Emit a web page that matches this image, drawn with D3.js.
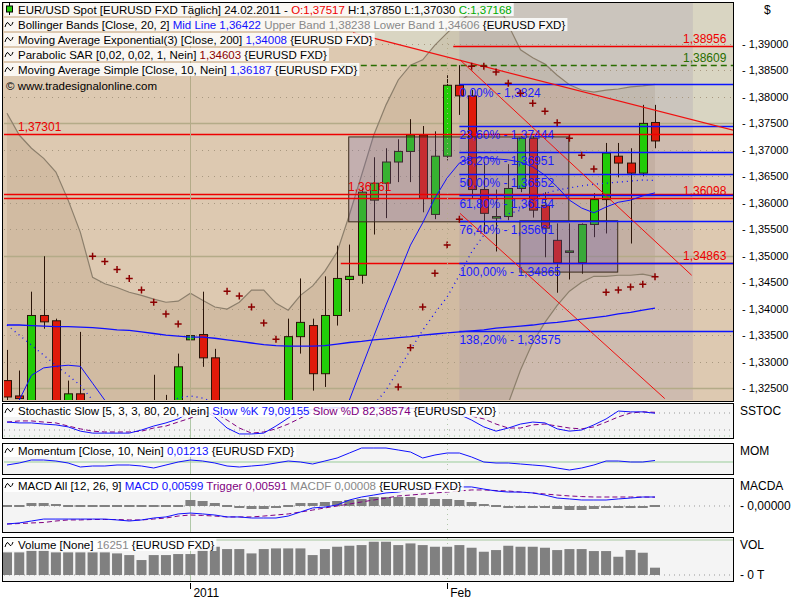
<!DOCTYPE html>
<html><head><meta charset="utf-8">
<script src="https://cdn.jsdelivr.net/npm/d3@7"></script>
<style>body{margin:0;background:#fff}text{font-family:"Liberation Sans",Arial,sans-serif;font-size:11px}</style>
</head><body><svg id="c" width="800" height="600"></svg>
<script>
// price candles, index 0..53 (daily)
var open  = [1.3264,1.3235,1.3180,1.3387,1.3377,1.3180,1.3239,1.3175,1.3100,1.3060,1.2980,1.3000,1.3080,1.3150,1.3180,1.3341,1.3351,1.3307,1.3180,1.3060,1.2960,1.2900,1.2980,1.3060,1.3347,1.3368,1.3277,1.3387,1.3455,1.3463,1.3605,1.3637,1.3677,1.3697,1.3728,1.3578,1.3688,1.3822,1.3802,1.3625,1.3571,1.3574,1.3627,1.3722,1.3595,1.3529,1.3508,1.3487,1.3559,1.3606,1.3688,1.3675,1.3656,1.37517];
var high  = [1.3322,1.3283,1.3432,1.3499,1.3381,1.3264,1.3356,1.3200,1.3150,1.3120,1.3050,1.3100,1.3275,1.3237,1.3315,1.3394,1.3432,1.3324,1.3210,1.3100,1.3000,1.3020,1.3100,1.3381,1.3457,1.3381,1.3461,1.3519,1.3521,1.3627,1.3686,1.3703,1.3720,1.3758,1.3745,1.3735,1.3841,1.3860,1.3813,1.3677,1.3625,1.3673,1.3726,1.3726,1.3620,1.3561,1.3561,1.3561,1.3618,1.3713,1.3713,1.3703,1.3785,1.37850];
var low   = [1.3220,1.3215,1.3160,1.3362,1.3140,1.3160,1.3160,1.3080,1.3040,1.2960,1.2900,1.2960,1.3040,1.3100,1.3150,1.3249,1.3290,1.3160,1.3040,1.2920,1.2870,1.2880,1.2940,1.3040,1.3315,1.3245,1.3252,1.3368,1.3394,1.3447,1.3540,1.3571,1.3639,1.3639,1.3582,1.3569,1.3680,1.3766,1.3608,1.3542,1.3508,1.3567,1.3620,1.3572,1.3497,1.3430,1.3455,1.3466,1.3535,1.3542,1.3648,1.3523,1.3650,1.37030];
var close = [1.3233,1.3230,1.3387,1.3375,1.3160,1.3239,1.3180,1.3100,1.3060,1.2980,1.3000,1.3080,1.3150,1.3180,1.3290,1.3349,1.3307,1.3180,1.3060,1.2960,1.2900,1.2980,1.3060,1.3347,1.3374,1.3277,1.3387,1.3457,1.3461,1.3620,1.3637,1.3677,1.3697,1.3728,1.3608,1.3688,1.3822,1.3802,1.3625,1.3580,1.3574,1.3627,1.3722,1.3586,1.3552,1.3487,1.3509,1.3559,1.3606,1.3694,1.3675,1.3656,1.3750,1.37168];

var bbUpper = [1.3769,1.3728,1.3703,1.3684,1.3658,1.3605,1.3544,1.3459,1.3447,1.3440,1.3431,1.3425,1.3418,1.3412,1.3414,1.3429,1.3416,1.3403,1.3399,1.3412,1.3435,1.3435,1.3410,1.3397,1.3425,1.3443,1.3471,1.3507,1.3577,1.3652,1.3728,1.3785,1.3832,1.3860,1.3870,1.3898,1.3921,1.3942,1.3960,1.3974,1.3983,1.3936,1.3889,1.3874,1.3862,1.3841,1.3823,1.3813,1.3809,1.3813,1.3815,1.3819,1.3821,1.38238];
var bbMid   = [1.3369,1.3350,1.3331,1.3312,1.3293,1.3274,1.3255,1.3227,1.3208,1.3199,1.3193,1.3189,1.3199,1.3218,1.3231,1.3235,1.3231,1.3222,1.3208,1.3199,1.3189,1.3180,1.3174,1.3170,1.3174,1.3180,1.3186,1.3189,1.3193,1.3199,1.3218,1.3246,1.3284,1.3322,1.3359,1.3392,1.3422,1.3463,1.3507,1.3539,1.3564,1.3579,1.3586,1.3605,1.3618,1.3624,1.3628,1.3632,1.3635,1.3637,1.3639,1.3641,1.3643,1.36422];
var bbLower = [1.2968,1.2972,1.2959,1.2940,1.2929,1.2944,1.2966,1.2995,1.2968,1.2957,1.2955,1.2953,1.2980,1.3023,1.3048,1.3040,1.3046,1.3040,1.3017,1.2985,1.2944,1.2925,1.2938,1.2944,1.2923,1.2917,1.2900,1.2872,1.2809,1.2745,1.2707,1.2707,1.2736,1.2783,1.2849,1.2885,1.2923,1.2985,1.3053,1.3104,1.3144,1.3221,1.3284,1.3336,1.3374,1.3406,1.3433,1.3450,1.3461,1.3461,1.3463,1.3463,1.3465,1.34606];
var ema200 = [1.3369,1.3369,1.3368,1.3367,1.3366,1.3366,1.3365,1.3364,1.3362,1.3360,1.3359,1.3356,1.3353,1.3350,1.3348,1.3346,1.3346,1.3344,1.3341,1.3338,1.3335,1.3332,1.3330,1.3329,1.3329,1.3329,1.3330,1.3333,1.3336,1.3338,1.3341,1.3343,1.3345,1.3347,1.3350,1.3352,1.3354,1.3356,1.3358,1.3360,1.3363,1.3365,1.3367,1.3369,1.3372,1.3374,1.3377,1.3380,1.3383,1.3386,1.3390,1.3393,1.3397,1.34008];
var sma10 = [1.3170,1.3227,1.3274,1.3288,1.3291,1.3293,1.3291,1.3259,1.3227,1.3200,1.3150,1.3120,1.3100,1.3090,1.3100,1.3110,1.3120,1.3130,1.3120,1.3100,1.3070,1.3050,1.3040,1.3040,1.3060,1.3090,1.3120,1.3160,1.3227,1.3288,1.3348,1.3407,1.3463,1.3520,1.3562,1.3609,1.3647,1.3675,1.3685,1.3685,1.3683,1.3681,1.3677,1.3668,1.3652,1.3630,1.3605,1.3590,1.3581,1.3592,1.3601,1.3605,1.3613,1.36187];
var sar = [null,null,null,null,null,null,null,1.3499,1.3489,1.3474,1.3457,1.3435,1.3412,1.3390,1.3371,null,null,null,1.3433,1.3424,1.3403,1.3373,1.3342,null,null,null,null,null,null,null,null,null,1.3252,1.3326,1.3403,1.3467,1.3520,1.3569,1.3858,1.3858,1.3847,1.3826,1.3807,1.3788,1.3773,1.3751,1.3722,1.3690,1.3664,1.3431,1.3435,1.3441,1.3446,1.34603];

var stochK = [48,45,45,41,38,31,16,9,9,9,9,20,34,45,59,84,91,66,27,6,6,9,34,62,91,91,98,99,97,98,99,99,98,97,94,92,90,75,55,31,16,27,41,48,45,24,16,20,38,59,87,84,84,79.09];
var stochD = [48,52,52,48,45,34,24,16,13,13,13,16,27,34,48,62,80,80,55,27,9,13,24,41,62,84,94,96,97,97,98,98,97,96,94,92,93,88,69,59,41,27,27,38,41,34,27,24,31,48,66,80,84,82.39];
var momentum = [-0.024,-0.008,0.016,0.016,0.008,-0.008,-0.040,-0.032,-0.032,-0.024,-0.024,-0.032,-0.048,-0.024,0,0.016,0.008,-0.008,-0.032,-0.040,-0.032,-0.024,-0.008,0.008,0,-0.016,0.008,0.032,0.072,0.112,0.112,0.112,0.096,0.080,0.032,0.056,0.072,0.072,0.040,0,-0.008,-0.008,-0.016,-0.024,-0.032,-0.048,-0.064,-0.048,-0.024,0.008,0.008,0,0,0.01213];
var macd = [-0.0120,-0.0113,-0.0100,-0.0087,-0.0087,-0.0087,-0.0087,-0.0087,-0.0087,-0.0093,-0.0100,-0.0093,-0.0080,-0.0073,-0.0053,-0.0047,-0.0053,-0.0060,-0.0073,-0.0073,-0.0080,-0.0080,-0.0080,-0.0067,-0.0040,-0.0013,-0.0007,0.0007,0.0040,0.0060,0.0073,0.0087,0.0093,0.0107,0.0113,0.0120,0.0127,0.0127,0.0127,0.0113,0.0100,0.0093,0.0093,0.0087,0.0073,0.0053,0.0047,0.0040,0.0040,0.0040,0.0047,0.0053,0.0060,0.00599];
var trigger = [-0.0120,-0.0117,-0.0113,-0.0110,-0.0100,-0.0093,-0.0093,-0.0090,-0.0090,-0.0090,-0.0093,-0.0093,-0.0087,-0.0080,-0.0067,-0.0060,-0.0063,-0.0067,-0.0073,-0.0073,-0.0073,-0.0067,-0.0060,-0.0053,-0.0040,-0.0027,-0.0013,0,0.0013,0.0027,0.0040,0.0053,0.0067,0.0073,0.0080,0.0087,0.0093,0.0100,0.0107,0.0107,0.0103,0.0100,0.0093,0.0087,0.0080,0.0073,0.0067,0.0063,0.0060,0.0060,0.0060,0.0060,0.0060,0.00591];
var macdf = [0.00006,0.0001,0.0006,0.0006,0.0004,0.0002,0.0002,0.0001,0.0001,0.00006,0.00006,0.00006,0.0001,0.0001,0.0002,0.0012,0.001,0.0006,0.0001,-0.0002,-0.0006,-0.0006,-0.0002,0.00006,0.0006,0.0006,0.0008,0.001,0.0012,0.0014,0.0018,0.0018,0.0018,0.0018,0.0016,0.0014,0.0014,0.0012,0.0008,0.0004,0.00006,-0.0002,-0.0001,-0.0002,-0.0004,-0.0006,-0.0008,-0.0008,-0.0006,-0.0004,-0.0002,-0.0002,-0.00006,0.00008];
var volume = [50250,50250,57640,57640,50250,50250,50250,50250,50250,48000,44300,33250,44300,44300,46560,46560,57640,62800,57640,57640,48000,57640,59100,59100,59100,44300,57640,62800,65000,66500,73900,73900,66500,70200,66500,62800,62800,66500,60600,51700,55400,65000,62800,62800,60600,55400,57640,57640,53200,53200,40600,55400,49500,16251];

var priceTicks = [1.39,1.385,1.38,1.375,1.37,1.365,1.36,1.355,1.35,1.345,1.34,1.335,1.33,1.325];
var hLevels = [
  {v:1.38956, from:36.5, color:"#e00", label:"1,38956", side:"r", dash:null},
  {v:1.38609, from:27.3, color:"#286e00", label:"1,38609", side:"r", dash:"6,4"},
  {v:1.37301, from:-1, color:"#e00", label:"1,37301", side:"l", dash:null},
  {v:1.36161, from:-1, color:"#e00", label:"1,36161", side:"m", dash:null},
  {v:1.36098, from:-1, color:"#e00", label:"1,36098", side:"r", dash:null},
  {v:1.34863, from:27.3, color:"#e00", label:"1,34863", side:"r", dash:null}
];
var fibPct = ["0,00%","23,60%","38,20%","50,00%","61,80%","76,40%","100,00%","138,20%"];
var fibVal = [1.3824,1.37444,1.36951,1.36552,1.36154,1.35661,1.34865,1.33575];
var fibLbl = ["1,3824","1,37444","1,36951","1,36552","1,36154","1,35661","1,34865","1,33575"];

var svg = d3.select("#c");
var L = 4, R = 733;
var x = d3.scaleLinear().domain([0,53]).range([7,655]);
var y = d3.scaleLinear().domain([1.325,1.39]).range([388,44]);

// panel frames
var panels = [{t:2,b:401},{t:403,b:438},{t:443,b:474},{t:478,b:532},{t:537,b:581}];
svg.append("defs").append("clipPath").attr("id","mc").append("rect")
  .attr("x",L).attr("y",3).attr("width",R-L).attr("height",397);
panels.forEach(function(p,i){
  svg.append("rect").attr("x",L-1).attr("y",p.t).attr("width",R-L+1).attr("height",p.b-p.t)
    .attr("fill", i==0 ? "#ddc9b1" : "#f4f4f4");
});
var m = svg.append("g").attr("clip-path","url(#mc)");

// trend line region (lighter) above upper trendline
var tl = [[28.3,1.3921],[59.4,1.3737]];
m.append("path").attr("fill","#d9d5c2")
  .attr("d","M"+x(tl[0][0])+","+y(tl[0][1])+"L"+R+","+(y(tl[0][1])+(R-x(tl[0][0]))*(y(tl[1][1])-y(tl[0][1]))/(x(tl[1][0])-x(tl[0][0])))+"L"+R+",0L"+x(tl[0][0])+",0Z");
// bollinger fill
m.append("path").datum(d3.range(54)).attr("fill","rgba(120,90,60,0.12)")
  .attr("d", d3.area().x(function(i){return x(i);}).y0(function(i){return y(bbLower[i]);}).y1(function(i){return y(bbUpper[i]);}));
// projection zone
m.append("rect").attr("x",x(37)).attr("y",0).attr("width",x(56.1)-x(37)).attr("height",400).attr("fill","rgba(130,120,170,0.16)");

// grid
priceTicks.forEach(function(v){
  var major = Math.abs((v*1000)%25) < 0.01 || Math.abs((v*1000)%25-25) < 0.01;
  m.append("line").attr("x1",L).attr("x2",R).attr("y1",Math.round(y(v))+0.5).attr("y2",Math.round(y(v))+0.5)
    .attr("stroke", major ? "#b4ab88" : "#a89880").attr("stroke-width", major?1.5:1).attr("stroke-dasharray", major?null:"1,5");
});
[15,36].forEach(function(i,k){
  panels.forEach(function(p,j){
    svg.append("line").attr("x1",Math.round(x(i))+0.5).attr("x2",Math.round(x(i))+0.5).attr("y1",p.t+1).attr("y2",p.b)
      .attr("stroke", j==0 ? "#b4ab88" : "#b0c8a8").attr("stroke-dasharray", k==1?"1,4":null);
  });
});

// Bollinger bands lines
[bbUpper,bbLower].forEach(function(arr){
  m.append("path").datum(d3.range(54)).attr("fill","none").attr("stroke","#8c7f6c").attr("stroke-width",1.2)
    .attr("d", d3.line().x(function(i){return x(i);}).y(function(i){return y(arr[i]);}));
});

// candles
var cg = m.append("g");
d3.range(54).forEach(function(i){
  var up = close[i] >= open[i], cx = Math.round(x(i))+0.5;
  cg.append("line").attr("x1",cx).attr("x2",cx).attr("y1",y(high[i])).attr("y2",y(low[i])).attr("stroke","#2a1408");
  var t = y(Math.max(open[i],close[i])), b = y(Math.min(open[i],close[i]));
  cg.append("rect").attr("x",cx-4).attr("y",t).attr("width",8).attr("height",Math.max(b-t,1.5))
    .attr("fill", up ? "#22cc08" : "#e01a0a").attr("stroke","#2a1408");
});

// boxes
m.append("rect").attr("x",x(27.95)).attr("y",y(1.37244)).attr("width",x(45.95)-x(27.95)).attr("height",y(1.3564)-y(1.37244))
  .attr("fill","rgba(120,100,170,0.25)").attr("stroke","#3a2a1a");
m.append("rect").attr("x",x(41.95)).attr("y",y(1.3566)).attr("width",x(49.95)-x(41.95)).attr("height",y(1.3469)-y(1.3566))
  .attr("fill","rgba(110,90,170,0.3)").attr("stroke","#3a2a1a");

// horizontal levels
hLevels.forEach(function(h){
  var yy = Math.round(y(h.v))+0.5;
  m.append("line").attr("x1", h.from<0 ? L : x(h.from)).attr("x2",R).attr("y1",yy).attr("y2",yy)
    .attr("stroke",h.color).attr("stroke-width",1.3).attr("stroke-dasharray",h.dash);
  var lx = h.side=="r" ? 683 : h.side=="l" ? 18 : 348;
  m.append("text").attr("x",lx).attr("y",yy-4).attr("fill",h.color).style("font-size","12px").text(h.label);
});

// fib levels
fibVal.forEach(function(v,k){
  var yy = Math.round(y(v))+0.5;
  m.append("line").attr("x1",x(37)).attr("x2",R).attr("y1",yy).attr("y2",yy).attr("stroke","#0a14ff").attr("stroke-width",1.3);
  m.append("text").attr("x",x(37)).attr("y",yy+12).attr("fill","#1a1aff").style("font-size","12px").text(fibPct[k]+" - "+fibLbl[k]);
});

// trend lines
function seg(a,b,w){
  m.append("line").attr("x1",x(a[0])).attr("y1",y(a[1])).attr("x2",x(b[0])).attr("y2",y(b[1])).attr("stroke","#f01010").attr("stroke-width",w||1);
}
seg(tl[0],tl[1],1.3);
seg([37.05,1.3870],[56.0,1.3463]);
seg([37.05,1.3580],[53.8,1.3230]);

// moving averages
var ln = function(arr){ return d3.line().defined(function(i){return arr[i]!=null;}).x(function(i){return x(i);}).y(function(i){return y(arr[i]);}); };
m.append("path").datum(d3.range(54)).attr("fill","none").attr("stroke","#1010ff").attr("stroke-width",1.3).attr("d",ln(ema200));
m.append("path").datum(d3.range(54)).attr("fill","none").attr("stroke","#1010ff").attr("stroke-width",1).attr("d",ln(sma10));
m.append("path").datum(d3.range(54)).attr("fill","none").attr("stroke","#1010ff").attr("stroke-width",1.3).attr("stroke-dasharray","1,4").attr("d",ln(bbMid));

// SAR
d3.range(54).forEach(function(i){
  if (sar[i]==null) return;
  var cx=x(i), cy=y(sar[i]);
  m.append("path").attr("d","M"+(cx-3.5)+","+cy+"h7M"+cx+","+(cy-3.5)+"v7").attr("stroke","#8b0000").attr("stroke-width",1.5);
});

// right axis
svg.append("text").attr("x",764).attr("y",14).style("font-size","12px").text("$");
priceTicks.forEach(function(v){
  svg.append("text").attr("x",742).attr("y",y(v)+4).text("- "+d3.format(".5f")(v).replace(".",","));
});

// stochastic
var ys = d3.scaleLinear().domain([20,80]).range([430,413]);
[80,20].forEach(function(v){ svg.append("line").attr("x1",L).attr("x2",R).attr("y1",ys(v)).attr("y2",ys(v)).attr("stroke","#999").attr("stroke-dasharray","1,4"); });
svg.append("line").attr("x1",L).attr("x2",R).attr("y1",436).attr("y2",436).attr("stroke","#9c9").attr("stroke-dasharray","1,4");
svg.append("path").datum(d3.range(54)).attr("fill","none").attr("stroke","#800080").attr("stroke-dasharray","5,3")
  .attr("d",d3.line().x(function(i){return x(i);}).y(function(i){return ys(stochD[i]);}));
svg.append("path").datum(d3.range(54)).attr("fill","none").attr("stroke","#1010ff")
  .attr("d",d3.line().x(function(i){return x(i);}).y(function(i){return ys(stochK[i]);}));

// momentum
var ym = d3.scaleLinear().domain([0,0.112]).range([462,448]);
svg.append("line").attr("x1",L).attr("x2",R).attr("y1",462).attr("y2",462).attr("stroke","#9c9");
svg.append("path").datum(d3.range(54)).attr("fill","none").attr("stroke","#1010ff")
  .attr("d",d3.line().x(function(i){return x(i);}).y(function(i){return ym(momentum[i]);}));

// macd
var yd = d3.scaleLinear().domain([0,0.012]).range([506,488]);
var yh = d3.scaleLinear().domain([0,0.0018]).range([506,497]);
svg.append("line").attr("x1",L).attr("x2",R).attr("y1",506).attr("y2",506).attr("stroke","#999").attr("stroke-dasharray","1,4");
d3.range(54).forEach(function(i){
  var a = yh(macdf[i]), h = Math.max(Math.abs(a-506),2);
  svg.append("rect").attr("x",x(i)-5).attr("y", macdf[i]>=0 ? Math.min(a,505) : 506).attr("width",10).attr("height",h).attr("fill","#808080");
});
svg.append("path").datum(d3.range(54)).attr("fill","none").attr("stroke","#800080").attr("stroke-dasharray","5,3")
  .attr("d",d3.line().x(function(i){return x(i);}).y(function(i){return yd(trigger[i]);}));
svg.append("path").datum(d3.range(54)).attr("fill","none").attr("stroke","#1010ff")
  .attr("d",d3.line().x(function(i){return x(i);}).y(function(i){return yd(macd[i]);}));

// volume
var yv = d3.scaleLinear().domain([0,80000]).range([575,539]);
svg.append("line").attr("x1",L).attr("x2",R).attr("y1",540).attr("y2",540).attr("stroke","#a8c8a0");
svg.append("line").attr("x1",L).attr("x2",R).attr("y1",575).attr("y2",575).attr("stroke","#999").attr("stroke-dasharray","1,4");
d3.range(54).forEach(function(i){
  svg.append("rect").attr("x",x(i)-5).attr("y",yv(volume[i])).attr("width",10).attr("height",575-yv(volume[i])).attr("fill","#808080");
});

// frames
panels.forEach(function(p){
  svg.append("rect").attr("x",L-1.5).attr("y",p.t+0.5).attr("width",R-L+2).attr("height",p.b-p.t).attr("fill","none").attr("stroke","#000");
});

// right labels for sub panels
[["SSTOC",415],["MOM",455],["MACDA",490],["- 0,00000",510],["VOL",549],["- 0 T",579]].forEach(function(d){
  svg.append("text").attr("x",d[0][0]=="-"?740:740).attr("y",d[1]).style("font-size","12px").text(d[0]);
});
// date labels
[[15,"2011"],[36,"Feb"]].forEach(function(d){
  svg.append("line").attr("x1",Math.round(x(d[0]))+0.5).attr("x2",Math.round(x(d[0]))+0.5).attr("y1",583).attr("y2",589).attr("stroke","#000");
  svg.append("text").attr("x",x(d[0])+3).attr("y",597).style("font-size","12px").text(d[1]);
});

// legends
function legend(yb, parts, icon){
  var g = svg.append("g");
  var bg = g.append("rect").attr("fill","rgba(255,255,255,0.85)");
  var t = g.append("text").attr("x",18).attr("y",yb).style("font-size","11.5px");
  parts.forEach(function(p){ t.append("tspan").attr("fill",p[1]||"#000").text(p[0]); });
  var bb = t.node().getBBox();
  bg.attr("x",L).attr("y",bb.y-1).attr("width",bb.x+bb.width-L+2).attr("height",bb.height+1);
  if (icon=="c") {
    g.append("line").attr("x1",9.5).attr("x2",9.5).attr("y1",yb-11).attr("y2",yb+1).attr("stroke","#000");
    g.append("rect").attr("x",6.5).attr("y",yb-8).attr("width",6).attr("height",6).attr("fill","#22cc08").attr("stroke","#000");
  } else {
    g.append("path").attr("fill","none").attr("stroke","#000")
      .attr("d","M5,"+(yb-2)+"q2,-7 4,-3t4,-2");
  }
}
legend(14,[["EUR/USD Spot [EURUSD FXD  Täglich] 24.02.2011 - "],["O:1,37517","#e00"],[" H:1,37850 L:1,37030 "],["C:1,37168","#0a0"]],"c");
legend(29,[["Bollinger Bands [Close, 20, 2] "],["Mid Line 1,36422","#1010ff"],[" Upper Band 1,38238 Lower Band 1,34606","#888"],[" {EURUSD FXD}"]],"w");
legend(44,[["Moving Average Exponential(3) [Close, 200] "],["1,34008","#1010ff"],[" {EURUSD FXD}"]],"w");
legend(59,[["Parabolic SAR [0,02, 0,02, 1, Nein] "],["1,34603","#8b0000"],[" {EURUSD FXD}"]],"w");
legend(74,[["Moving Average Simple [Close, 10, Nein] "],["1,36187","#1010ff"],[" {EURUSD FXD}"]],"w");
svg.append("text").attr("x",6).attr("y",90).style("font-size","11.5px").text("© www.tradesignalonline.com");
legend(415,[["Stochastic Slow [5, 3, 3, 80, 20, Nein] "],["Slow %K 79,09155","#1010ff"],[" Slow %D 82,38574","#800080"],[" {EURUSD FXD}"]],"w");
legend(455,[["Momentum [Close, 10, Nein] "],["0,01213","#1010ff"],[" {EURUSD FXD}"]],"w");
legend(490,[["MACD All [12, 26, 9] "],["MACD 0,00599","#1010ff"],[" Trigger 0,00591","#800080"],[" MACDF 0,00008","#888"],[" {EURUSD FXD}"]],"w");
legend(549,[["Volume [None] "],["16251","#888"],[" {EURUSD FXD}"]],"w");
</script></body></html>
